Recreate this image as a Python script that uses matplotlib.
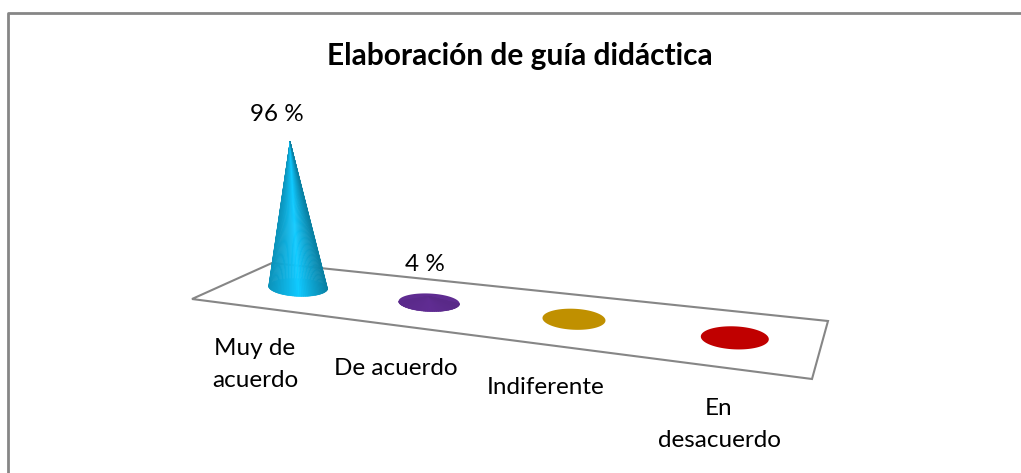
import numpy as np
import matplotlib
matplotlib.use("Agg")
import matplotlib.pyplot as plt
from matplotlib.collections import PolyCollection
from matplotlib.colors import to_rgb

titulo = 'Elaboración de guía didáctica'
categorias = ['Muy de\nacuerdo', 'De acuerdo', 'Indiferente', 'En\ndesacuerdo']
valores = [96, 4, 0, 0]
etiquetas = ['96 %', '4 %', '', '']
colores = ['#0FBDF0', '#5F2C91', '#C09000', '#C00000']

# esquinas del piso en pixeles: frente-izq, frente-der, fondo-der, fondo-izq
piso = np.array([[192, 299], [812, 379], [828, 321], [272, 263]], dtype=float)
# centro de cada cono sobre el piso, y tamaño de su base
u_centro = [0.555, 1.585, 2.58, 3.54]
anchos = [59, 61, 63, 68]
altos = [18, 18, 21, 23]
etiq_pos = [(255, 364.5), (396, 368), (546, 387), (719, 424.5)]
PX_POR_UNIDAD = 1.52

plt.rcParams['font.family'] = ['Lato', 'DejaVu Sans']

# homografia (u, v) del piso -> pixeles
def homografia(pts):
    src = [(0, 0), (4, 0), (4, 1), (0, 1)]
    A, b = [], []
    for (u, v), (x, y) in zip(src, pts):
        A.append([u, v, 1, 0, 0, 0, -u*x, -v*x])
        A.append([0, 0, 0, u, v, 1, -u*y, -v*y])
        b += [x, y]
    h = np.linalg.solve(np.array(A), np.array(b))
    return np.append(h, 1).reshape(3, 3)

H = homografia(piso)

def proyecta(u, v):
    p = H @ np.array([u, v, 1.0])
    return p[0]/p[2], p[1]/p[2]

def sombra(color, t, fuerza):
    # t va de -1 (borde izq) a 1 (borde der)
    c = np.array(to_rgb(color))
    k = 1.08 - (0.30 if t < 0 else 0.40)*abs(t)**0.9
    k = 1 + (k - 1)*fuerza
    return tuple(np.clip(c*k, 0, 1))

fig = plt.figure(figsize=(10.21, 4.73), dpi=100)
ax = fig.add_axes([0, 0, 1, 1])
ax.set_xlim(0, 1021)
ax.set_ylim(473, 0)
ax.axis('off')

# marco exterior (sin lado derecho)
ax.plot([8, 8, 1021], [473, 13, 13], color='#868686', lw=2)

ax.fill(piso[:, 0], piso[:, 1], fc='white', ec='#868686', lw=1.5, zorder=2)

ang = np.linspace(0, 2*np.pi, 121)
for i, (val, col) in enumerate(zip(valores, colores)):
    cx, cy = proyecta(u_centro[i], 0.5)
    a, b = anchos[i]/2, altos[i]/2
    bx = cx + a*np.cos(ang)
    by = cy + b*np.sin(ang) + 0.04*a*np.cos(ang)
    ax.fill(bx, by, fc=col, ec='none', zorder=3)
    if val > 0:
        apice = (cx - 0.055*val*PX_POR_UNIDAD, cy - val*PX_POR_UNIDAD)
        # cara frontal del cono en tiras, de izquierda a derecha
        t_ang = np.linspace(np.pi, 0, 51)
        fx = cx + a*np.cos(t_ang)
        fy = cy + b*np.sin(t_ang) + 0.04*a*np.cos(t_ang)
        polys, cols = [], []
        fuerza = min(1, val/20)
        for j in range(50):
            polys.append([(fx[j], fy[j]), (fx[j+1], fy[j+1]), apice])
            cols.append(sombra(col, np.cos(t_ang[j]), fuerza))
        ax.add_collection(PolyCollection(polys, facecolors=cols, edgecolors=cols, linewidths=0.4, zorder=4))

ax.text(277, 114, etiquetas[0], ha='center', va='center', fontsize=17.5, color='black', zorder=5)
ax.text(425, 264, etiquetas[1], ha='center', va='center', fontsize=17.5, color='black', zorder=5)

for (x, y), cat in zip(etiq_pos, categorias):
    ax.text(x, y, cat, ha='center', va='center', fontsize=17.5, color='black', linespacing=1.65, zorder=5)

ax.text(520, 56, titulo, ha='center', va='center', fontsize=21.5, fontweight='bold', color='black')

fig.savefig('out.png', dpi=100)
